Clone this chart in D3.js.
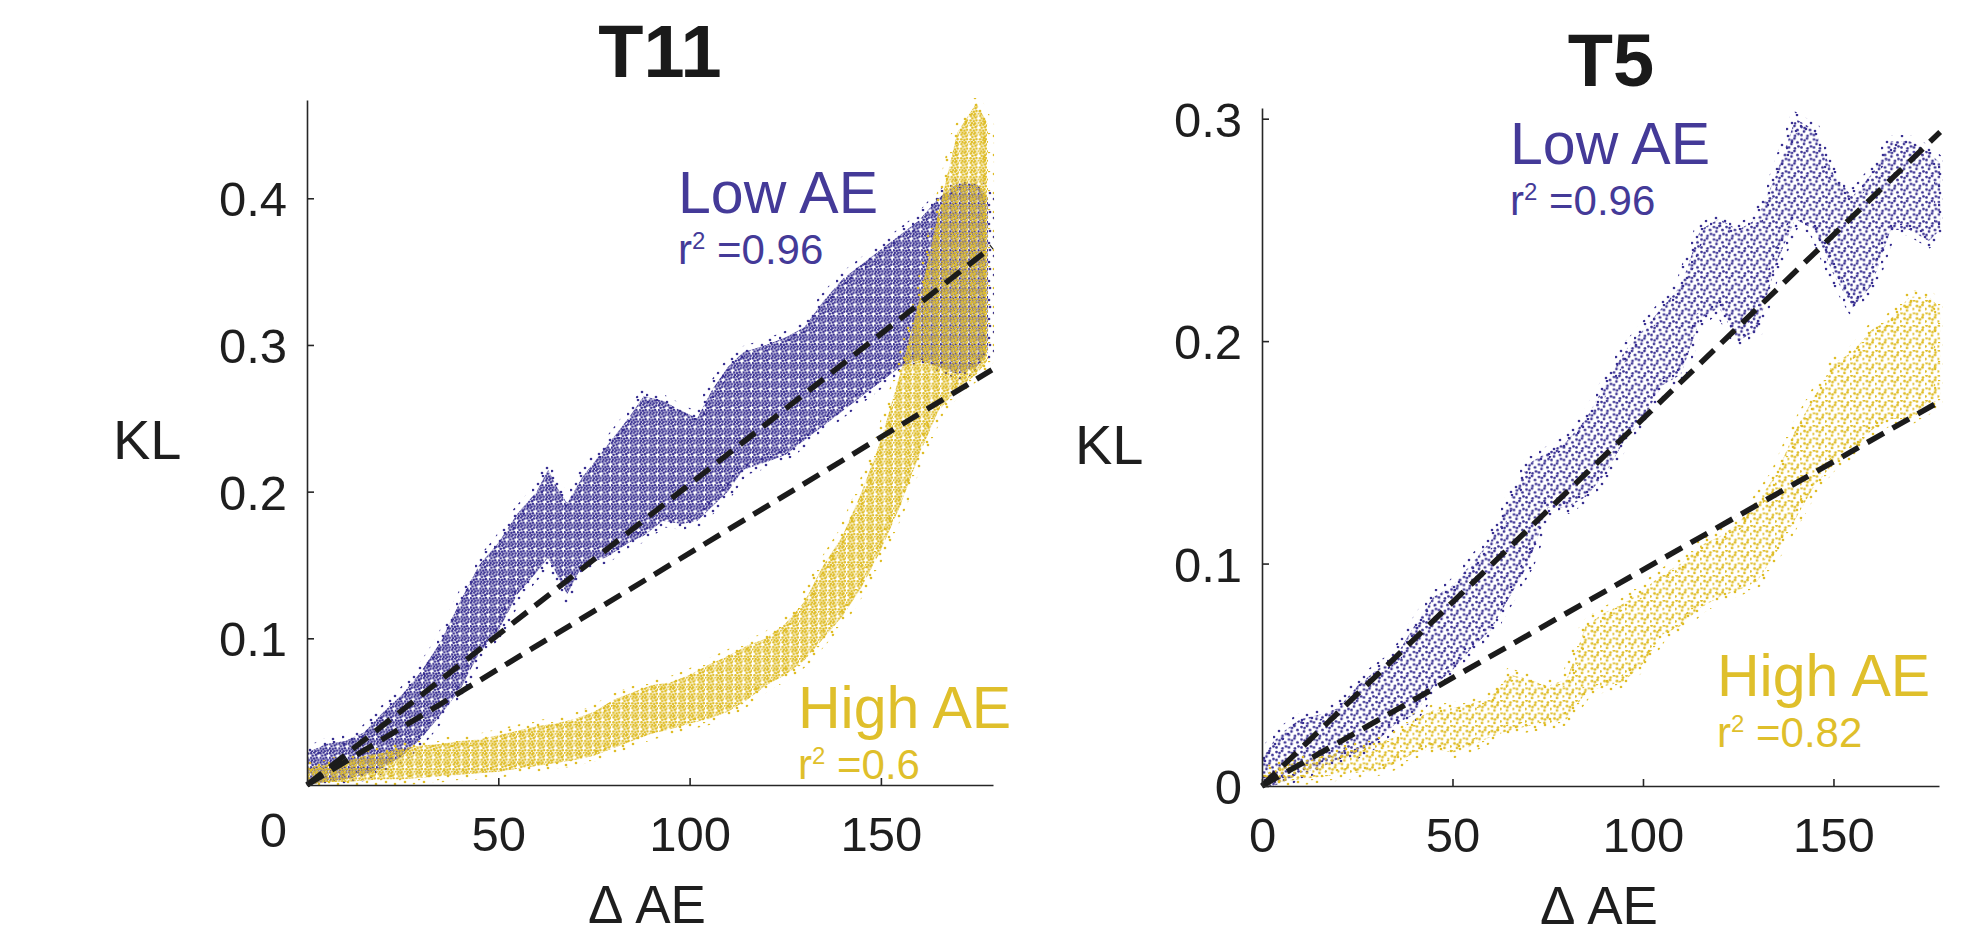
<!DOCTYPE html>
<html>
<head>
<meta charset="utf-8">
<title>KL vs delta AE</title>
<script src="https://d3js.org/d3.v7.min.js"></script>
<style>
    body { margin: 0; background: #fff; }
    svg { display: block; font-family: "Liberation Sans", Arial, Helvetica, sans-serif; }
    .axis path, .axis line { stroke: #262626; stroke-width: 1.6px; }
    .axis text { fill: #1e1e1e; font-size: 49px; }
    .fit { fill: none; stroke: #1b1b1b; stroke-width: 5.5px; stroke-dasharray: 19 10; }
</style>
</head>
<body>
<div id="chart"></div>
<script>
// ---- data ----
// cloud edges (lower / upper KL) at a few delta-AE positions
const t11LowX  = [0, 5, 10, 15, 20, 25, 30, 35, 40, 45, 50, 55, 60, 63, 66, 68, 72, 78, 84, 88, 93, 98, 102, 106, 110, 114, 120, 125, 130, 135, 140, 145, 150, 155, 160, 165, 170, 175, 178];
const t11LowLo = [0, .002, .004, .007, .012, .020, .032, .048, .065, .090, .105, .130, .145, .155, .140, .130, .150, .155, .165, .170, .180, .178, .180, .190, .200, .215, .220, .225, .235, .245, .255, .265, .275, .285, .290, .285, .280, .285, .295];
const t11LowHi = [.022, .028, .030, .036, .050, .062, .078, .098, .125, .150, .165, .185, .200, .215, .200, .192, .210, .230, .250, .265, .262, .255, .250, .270, .285, .295, .300, .305, .312, .330, .345, .355, .365, .375, .385, .400, .410, .410, .400];

const t11HighX  = [0, 5, 10, 15, 20, 25, 30, 35, 40, 45, 50, 55, 60, 65, 70, 75, 80, 85, 90, 95, 100, 105, 110, 115, 120, 125, 130, 135, 140, 145, 150, 155, 160, 165, 170, 175, 178];
const t11HighLo = [0, .002, .002, .003, .004, .004, .005, .006, .007, .008, .009, .011, .013, .015, .017, .020, .025, .030, .035, .038, .042, .045, .050, .058, .068, .075, .085, .100, .115, .135, .160, .190, .225, .255, .270, .280, .290];
const t11HighHi = [.012, .014, .016, .020, .022, .025, .027, .028, .030, .031, .034, .037, .040, .042, .045, .050, .058, .063, .068, .070, .075, .082, .088, .095, .100, .110, .125, .150, .170, .200, .235, .280, .330, .390, .445, .465, .450];

const t5LowX  = [0, 3, 6, 10, 15, 20, 25, 30, 35, 40, 45, 50, 55, 60, 65, 70, 75, 80, 85, 90, 95, 100, 105, 110, 115, 120, 125, 130, 135, 140, 145, 150, 155, 160, 165, 170, 175, 178];
const t5LowLo = [0, 0, .002, .006, .008, .012, .015, .020, .028, .032, .045, .052, .062, .070, .085, .100, .125, .125, .130, .140, .155, .165, .180, .185, .210, .215, .200, .205, .235, .255, .250, .230, .215, .225, .250, .250, .245, .250];
const t5LowHi = [.012, .020, .025, .030, .032, .035, .045, .052, .058, .072, .085, .090, .100, .110, .128, .145, .150, .155, .165, .180, .195, .205, .215, .225, .250, .255, .250, .255, .275, .300, .295, .275, .265, .275, .290, .290, .285, .280];

const t5HighX  = [0, 5, 10, 15, 20, 25, 30, 35, 40, 45, 50, 55, 60, 65, 70, 75, 80, 85, 90, 95, 100, 105, 110, 115, 120, 125, 130, 135, 140, 145, 150, 155, 160, 165, 170, 175, 178];
const t5HighLo = [0, .002, .003, .004, .005, .006, .007, .010, .015, .017, .015, .018, .022, .025, .027, .028, .030, .042, .045, .047, .055, .068, .072, .080, .085, .088, .092, .105, .120, .135, .145, .150, .160, .165, .165, .170, .175];
const t5HighHi = [.005, .009, .011, .013, .015, .017, .019, .022, .030, .034, .035, .037, .040, .050, .048, .045, .048, .072, .078, .082, .088, .095, .100, .108, .112, .118, .128, .140, .160, .175, .190, .195, .205, .210, .220, .220, .215];

// linear fits through the origin: KL reached at the right end of the axis
const t11FitX   = 179;
const t11FitEnd = [0.367, 0.283];
const t5FitX    = 178;
const t5FitEnd  = [0.294, 0.173];

const r2Low  = ["0.96", "0.96"];
const r2High = ["0.6", "0.82"];

const titles = ["T11", "T5"];
const t11XTicks = [50, 100, 150];
const t11YTicks = [0.1, 0.2, 0.3, 0.4];
const t5XTicks  = [0, 50, 100, 150];
const t5YTicks  = [0, 0.1, 0.2, 0.3];

const purple = "#3a3192", yellow = "#dfbd28";
const purpleText = "#443a98", yellowText = "#dfbf2b";

// ---- layout (pixels) ----
const W = 1982, H = 936;
const svg = d3.select("#chart").append("svg").attr("width", W).attr("height", H);

// dot textures so the bands read like scatter clouds
const defs = svg.append("defs");
function dotPattern(id, color, size, dots, r) {
    const p = defs.append("pattern").attr("id", id)
        .attr("patternUnits", "userSpaceOnUse")
        .attr("width", size).attr("height", size);
    dots.forEach(d => p.append("circle").attr("cx", d[0]).attr("cy", d[1]).attr("r", r).attr("fill", color));
}
const denseDots = [[1, 1.2], [4.1, 0.5], [2.5, 3.6], [5.6, 3.0], [0.7, 5.9], [3.8, 6.4], [6.5, 5.8], [7.6, 1.5], [8.1, 8.0], [1.9, 8.4], [5.2, 8.7]];
const sparseDots = [[1.5, 2], [7, 1], [4, 6.5], [10, 5], [1.5, 10], [7.5, 11], [11, 9], [4.5, 3]];
const haloDots = [[2, 3], [11, 1], [6, 9], [15, 12], [1, 15], [10, 17]];
const shift = (arr, dx, dy, m) => arr.map(d => [(d[0] + dx) % m, (d[1] + dy) % m]);
dotPattern("pDense", purple, 9.4, denseDots, 1.3);
dotPattern("yDense", yellow, 9.4, shift(denseDots, 1.7, 1.9, 9.4), 1.3);
dotPattern("pSparse", purple, 12.5, sparseDots, 1.35);
dotPattern("ySparse", yellow, 12.5, shift(sparseDots, 3, 4, 12.5), 1.35);
dotPattern("pHalo", purple, 19, haloDots, 1.3);
dotPattern("yHalo", yellow, 19, shift(haloDots, 5, 7, 19), 1.3);

const panels = [
    {
        title: titles[0], xDomain: [0, 179.3], yDomain: [0, 0.467],
        xRange: [307, 993], yRange: [785, 100],
        xTicks: t11XTicks, yTicks: t11YTicks,
        series: [
            { x: t11LowX, lo: t11LowLo, hi: t11LowHi, fill: "url(#pDense)", halo: "url(#pHalo)" },
            { x: t11HighX, lo: t11HighLo, hi: t11HighHi, fill: "url(#yDense)", halo: "url(#yHalo)" }
        ],
        fitX: t11FitX, fitEnd: t11FitEnd,
        titleXY: [660, 77], klXY: [113, 459], dAEXY: [647, 923],
        lowXY: [678, 213], highXY: [798, 728], lineGap: 51,
        r2: [r2Low[0], r2High[0]], zeroLabel: [287, 847]
    },
    {
        title: titles[1], xDomain: [0, 177.7], yDomain: [0, 0.3048],
        xRange: [1262, 1939], yRange: [786, 108],
        xTicks: t5XTicks, yTicks: t5YTicks,
        series: [
            { x: t5LowX, lo: t5LowLo, hi: t5LowHi, fill: "url(#pSparse)", halo: "url(#pHalo)" },
            { x: t5HighX, lo: t5HighLo, hi: t5HighHi, fill: "url(#ySparse)", halo: "url(#yHalo)" }
        ],
        fitX: t5FitX, fitEnd: t5FitEnd,
        titleXY: [1611, 86], klXY: [1075, 464], dAEXY: [1599, 924],
        lowXY: [1510, 164], highXY: [1717, 696], lineGap: 51,
        r2: [r2Low[1], r2High[1]], zeroLabel: null
    }
];

panels.forEach((p, i) => {
    const x = d3.scaleLinear().domain(p.xDomain).range(p.xRange);
    const y = d3.scaleLinear().domain(p.yDomain).range(p.yRange);
    const g = svg.append("g");

    const clipId = "clip" + i;
    defs.append("clipPath").attr("id", clipId).append("rect")
        .attr("x", p.xRange[0]).attr("y", p.yRange[1] - 2)
        .attr("width", p.xRange[1] - p.xRange[0] + 4).attr("height", p.yRange[0] - p.yRange[1] + 2);

    // scatter clouds: dotted band plus a loose fringe of dots along its edges
    const area = d3.area().x(d => x(d.x)).y0(d => y(d.lo)).y1(d => y(d.hi));
    p.series.forEach(s => {
        const rows = s.x.map((v, k) => ({ x: v, lo: s.lo[k], hi: s.hi[k] }));
        g.append("path").datum(rows)
            .attr("clip-path", `url(#${clipId})`)
            .attr("fill", s.fill)
            .attr("stroke", s.halo).attr("stroke-width", 12)
            .attr("d", area);
    });

    // dashed fits
    p.fitEnd.forEach(v => {
        g.append("line").attr("class", "fit")
            .attr("x1", x(0)).attr("y1", y(0))
            .attr("x2", x(p.fitX)).attr("y2", y(v));
    });

    // axes
    const fmtY = d => d === 0 ? "0" : d3.format(".1f")(d);
    g.append("g").attr("class", "axis")
        .attr("transform", `translate(${p.xRange[0]},0)`)
        .call(d3.axisLeft(y).tickValues(p.yTicks).tickFormat(fmtY).tickSizeInner(-7).tickSizeOuter(0).tickPadding(20))
        .call(a => a.selectAll("text").attr("dy", "0.36em"));
    g.append("g").attr("class", "axis")
        .attr("transform", `translate(0,${p.yRange[0]})`)
        .call(d3.axisBottom(x).tickValues(p.xTicks).tickFormat(d3.format("d")).tickSizeInner(-7).tickSizeOuter(0).tickPadding(31));
    g.selectAll(".axis text").attr("font-family", null).attr("font-size", null);

    if (p.zeroLabel) {
        g.append("text").attr("x", p.zeroLabel[0]).attr("y", p.zeroLabel[1])
            .attr("text-anchor", "end").attr("font-size", 49).attr("fill", "#1e1e1e").text("0");
    }

    // titles and axis labels
    g.append("text").attr("x", p.titleXY[0]).attr("y", p.titleXY[1])
        .attr("text-anchor", "middle").attr("font-size", 74).attr("font-weight", "bold")
        .attr("fill", "#1a1a1a").text(p.title);
    g.append("text").attr("x", p.klXY[0]).attr("y", p.klXY[1])
        .attr("font-size", 56).attr("fill", "#1e1e1e").text("KL");
    g.append("text").attr("x", p.dAEXY[0]).attr("y", p.dAEXY[1])
        .attr("text-anchor", "middle").attr("font-size", 53).attr("fill", "#1e1e1e").text("Δ AE");

    // series annotations, name and r² as one text block
    [[p.lowXY, "Low AE", p.r2[0], purpleText], [p.highXY, "High AE", p.r2[1], yellowText]].forEach(a => {
        const [xy, name, r2, col] = a;
        const t = g.append("text").attr("x", xy[0]).attr("y", xy[1]).attr("fill", col);
        t.append("tspan").attr("font-size", 59).text(name);
        t.append("tspan").attr("x", xy[0]).attr("dy", p.lineGap).attr("font-size", 42).text("r");
        t.append("tspan").attr("font-size", 24).attr("dy", -15).text("2");
        t.append("tspan").attr("font-size", 42).attr("dy", 15).text(" =" + r2);
    });
});
</script>
</body>
</html>
